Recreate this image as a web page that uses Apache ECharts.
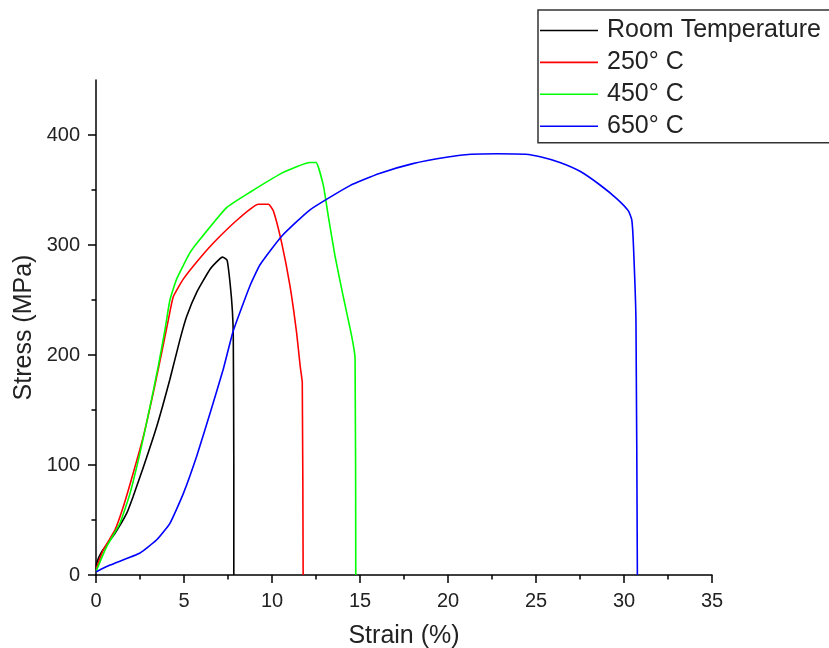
<!DOCTYPE html>
<html>
<head>
<meta charset="utf-8">
<script src="https://cdn.jsdelivr.net/npm/echarts@6/dist/echarts.min.js"></script>
<style>
html,body{margin:0;padding:0;background:#fff;}
#chart{width:829px;height:648px;}
</style>
</head>
<body>
<div id="chart"></div>
<script>
const seriesNames = ['Room Temperature', '250° C', '450° C', '650° C'];
const seriesColors = ['#000000', '#ff0000', '#00ff00', '#0000ff'];

const roomStrain = [0.02, 0.04, 0.32, 1.08, 1.74, 2.1, 2.69, 3.45, 4.2, 4.77, 5.15, 5.72, 6.48, 7.0, 7.2, 7.45, 7.62, 7.75, 7.8, 7.83, 7.83];
const roomStress = [5, 11, 21, 38, 56, 71, 98, 135, 178, 214, 235, 257, 278, 287, 289, 286, 265, 240, 217, 100, 0];

const t250Strain = [0.02, 0.42, 1.08, 1.55, 2.12, 2.69, 3.26, 3.73, 4.11, 4.39, 4.96, 5.9, 6.86, 8.18, 9.22, 9.8, 10.08, 10.55, 11.02, 11.4, 11.6, 11.72, 11.77];
const t250Stress = [6, 23, 41, 62, 93, 126, 166, 202, 232, 253, 269, 288, 305, 325, 337, 337, 331, 302, 263, 220, 190, 175, 0];

const t450Strain = [0.02, 0.61, 1.36, 1.93, 2.5, 3.07, 3.54, 3.92, 4.2, 4.58, 5.34, 5.9, 7.42, 8.75, 10.64, 12.16, 12.5, 12.92, 13.2, 13.58, 14.05, 14.53, 14.72, 14.76];
const t450Stress = [4, 26, 47, 74, 111, 153, 190, 223, 250, 269, 293, 305, 334, 348, 366, 375, 375, 354, 326, 290, 253, 217, 197, 0];

const t650Strain = [0.02, 0.8, 2.5, 3.45, 4.2, 4.96, 5.72, 6.48, 7.23, 7.8, 8.75, 9.32, 10.55, 12.16, 14.43, 16.1, 18, 20, 21.3, 22.8, 24.4, 25.3, 26.36, 27.5, 28.6, 29.6, 30.25, 30.44, 30.53, 30.68, 30.76];
const t650Stress = [3, 9, 20, 32, 47, 74, 108, 147, 187, 222, 263, 282, 308, 332, 354, 365, 374, 380, 382.5, 383, 382.5, 380, 375, 367, 355, 342, 331, 323, 302, 231, 0];

const xTicks = [0, 5, 10, 15, 20, 25, 30, 35];
const yMajorTicks = [0, 100, 200, 300, 400];
const yMinorTicks = [50, 150, 250, 350];

function pairs(xs, ys) { return xs.map((x, i) => [x, ys[i]]); }
const allData = [
  pairs(roomStrain, roomStress),
  pairs(t250Strain, t250Stress),
  pairs(t450Strain, t450Stress),
  pairs(t650Strain, t650Stress)
];

const FONT = '"Liberation Sans", Arial, sans-serif';
const chart = echarts.init(document.getElementById('chart'), null, {renderer: 'canvas'});
chart.setOption({
  animation: false,
  backgroundColor: '#ffffff',
  grid: {left: 96, right: 117, top: 80, bottom: 73, outerBoundsMode: 'none', containLabel: false},
  legend: {
    left: 538, top: 10,
    orient: 'vertical',
    data: seriesNames,
    icon: 'rect',
    itemWidth: 58, itemHeight: 1.6, itemGap: 6.9,
    padding: [8, 40, 4, 2],
    borderColor: '#333', borderWidth: 1.5,
    backgroundColor: '#fff',
    textStyle: {fontFamily: FONT, fontSize: 25, color: '#222', lineHeight: 25, padding: [0,0,0,4]}
  },
  xAxis: {
    type: 'value', min: 0, max: 35, interval: 5,
    name: 'Strain (%)', nameLocation: 'middle', nameGap: 49, nameMoveOverlap: false,
    nameTextStyle: {fontFamily: FONT, fontSize: 25, color: '#222'},
    axisLine: {lineStyle: {color: '#000', width: 1.5}},
    axisTick: {inside: false, length: 8, lineStyle: {color: '#000', width: 1.5}, customValues: xTicks},
    minorTick: {show: true, splitNumber: 2, length: 4.5, lineStyle: {color: '#000', width: 1.5}},
    axisLabel: {fontFamily: FONT, fontSize: 20, color: '#222', margin: 16, customValues: xTicks},
    splitLine: {show: false}
  },
  yAxis: [{
    type: 'value', min: 0, max: 450, interval: 50,
    name: 'Stress (MPa)', nameLocation: 'middle', nameGap: 59, nameMoveOverlap: false,
    nameTextStyle: {fontFamily: FONT, fontSize: 25, color: '#222'},
    axisLine: {show: true, lineStyle: {color: '#000', width: 1.5}},
    axisTick: {show: true, length: 8, lineStyle: {color: '#000', width: 1.5}, customValues: yMajorTicks},
    axisLabel: {fontFamily: FONT, fontSize: 20, color: '#222', margin: 16, customValues: yMajorTicks},
    splitLine: {show: false}
  }, {
    type: 'value', min: 0, max: 450, interval: 50, position: 'left',
    axisLine: {show: false},
    axisTick: {show: true, length: 4.5, lineStyle: {color: '#000', width: 1.5}, customValues: yMinorTicks},
    axisLabel: {show: false},
    splitLine: {show: false}
  }],
  series: allData.map((d, i) => ({
    name: seriesNames[i],
    type: 'line',
    data: d,
    symbol: 'none',
    smooth: 0.15,
    lineStyle: {color: seriesColors[i], width: 1.6},
    itemStyle: {color: seriesColors[i]}
  }))
});
</script>
</body>
</html>
